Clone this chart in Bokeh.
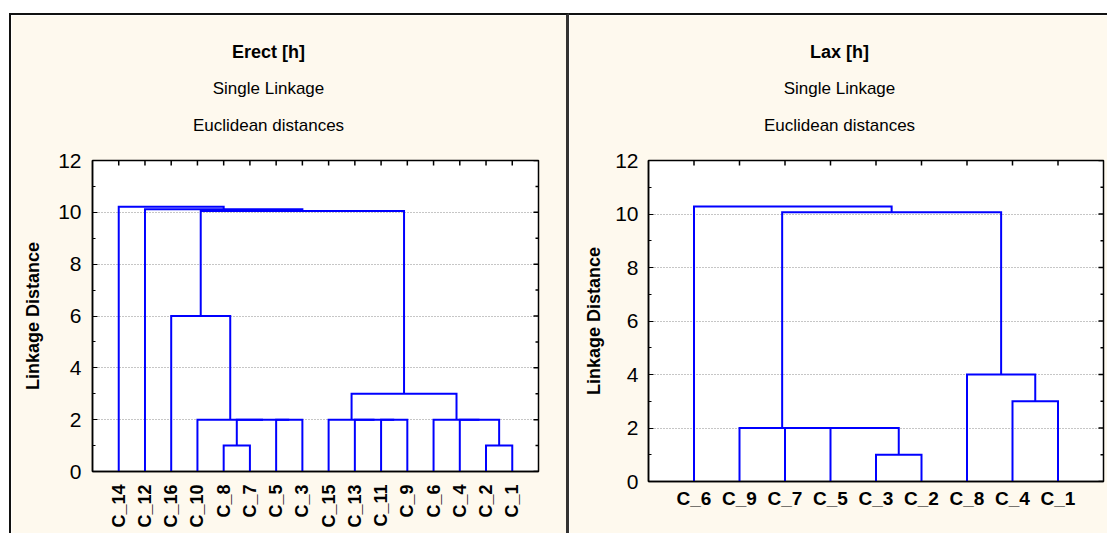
from math import pi
from bokeh.plotting import figure
from bokeh.layouts import row
from bokeh.models import Range1d, LinearAxis, FixedTicker, Title, Grid, GlobalInlineStyleSheet
from bokeh.embed import file_html
from bokeh.resources import INLINE

# ---------------- data ----------------
erect_leaves = ["C_14", "C_12", "C_16", "C_10", "C_8", "C_7", "C_5", "C_3",
                "C_15", "C_13", "C_11", "C_9", "C_6", "C_4", "C_2", "C_1"]
erect_merge_a = ["C_8", "C_2", "C_5", "#0", "C_10", "C_11", "C_13", "C_15",
                 "C_4", "C_6", "#7", "C_16", "#11", "C_12", "C_14"]
erect_merge_b = ["C_7", "C_1", "C_3", "#2", "#3", "C_9", "#5", "#6",
                 "#1", "#8", "#9", "#4", "#10", "#12", "#13"]
erect_merge_h = [1.0, 1.0, 2.0, 2.0, 2.0, 2.0, 2.0, 2.0,
                 2.0, 2.0, 3.0, 6.0, 10.05, 10.12, 10.22]

lax_leaves = ["C_6", "C_9", "C_7", "C_5", "C_3", "C_2", "C_8", "C_4", "C_1"]
lax_merge_a = ["C_3", "C_5", "C_7", "C_9", "C_4", "C_8", "#3", "C_6"]
lax_merge_b = ["C_2", "#0", "#1", "#2", "C_1", "#4", "#5", "#6"]
lax_merge_h = [1.0, 2.0, 2.0, 2.0, 3.0, 4.0, 10.07, 10.28]

y_ticks = [0, 2, 4, 6, 8, 10, 12]
y_minor = [1, 3, 5, 7, 9, 11]
grid_levels = [2, 4, 6, 8, 10]

erect_titles = ["Erect [h]", "Single Linkage", "Euclidean distances"]
lax_titles = ["Lax [h]", "Single Linkage", "Euclidean distances"]
y_label = "Linkage Distance"

CREAM = "#FEF9EE"
BLUE = "#0000FF"
FONT = "Liberation Sans"
TITLE_SIZES = [18, 17, 17]       # bold main title, then the two sub-titles
TITLE_PANELS = [71, 2, 71]       # height of each title's band above the frame (px)

# Arial / Liberation Sans advance widths (1/1000 em), used to centre the titles
W_REG = {" ": 278, "E": 667, "L": 556, "S": 667, "a": 556, "c": 500, "d": 556,
         "e": 556, "g": 556, "i": 222, "k": 500, "l": 222, "n": 556, "s": 500,
         "t": 278, "u": 556}
W_BOLD = {" ": 278, "E": 667, "L": 611, "r": 389, "e": 556, "c": 556, "t": 333,
          "[": 333, "h": 611, "]": 333, "a": 556, "x": 556}


def text_width(s, size, bold):
    tab = W_BOLD if bold else W_REG
    return sum(tab.get(ch, 556) for ch in s) / 1000.0 * size


def dendro_segments(leaves, ma, mb, mh):
    pos = {name: i + 1 for i, name in enumerate(leaves)}
    hgt = {name: 0.0 for name in leaves}
    xs, ys = [], []
    for k, (a, b, h) in enumerate(zip(ma, mb, mh)):
        xa, xb = pos[a], pos[b]
        xs.append([xa, xa, xb, xb])
        ys.append([hgt[a], h, h, hgt[b]])
        pos["#%d" % k] = (xa + xb) / 2.0
        hgt["#%d" % k] = h
    return xs, ys


def make_panel(leaves, ma, mb, mh, titles, width, height, borders, rotate,
               title_cx, ystand, ylabstand, xstand, xsize):
    n = len(leaves)
    bl, br, bt, bb = borders
    p = figure(width=width, height=height,
               x_range=Range1d(0, n + 1), y_range=Range1d(0, 12),
               output_backend="svg", toolbar_location=None,
               x_axis_location=None, y_axis_location=None,
               min_border_left=bl, min_border_right=br,
               min_border_top=bt, min_border_bottom=bb,
               background_fill_color="white", border_fill_color=CREAM,
               outline_line_color="black", outline_line_width=1.5)
    p.xgrid.visible = False
    p.ygrid.visible = False

    p.add_layout(Grid(dimension=1, ticker=FixedTicker(ticks=grid_levels),
                      grid_line_color="#8c8c8c", grid_line_dash="1 2",
                      grid_line_width=1))

    yax = LinearAxis(ticker=FixedTicker(ticks=y_ticks, minor_ticks=y_minor),
                     axis_label=y_label,
                     axis_label_text_font=FONT, axis_label_text_font_style="bold",
                     axis_label_text_font_size="18px", axis_label_text_color="black",
                     axis_label_standoff=ylabstand,
                     major_label_text_font=FONT, major_label_text_font_size="21px",
                     major_label_text_color="black", major_label_standoff=ystand,
                     major_tick_in=5, major_tick_out=0, minor_tick_in=3, minor_tick_out=0,
                     axis_line_width=1.5, axis_line_color="black")
    p.add_layout(yax, "left")

    leaf_ticks = list(range(1, n + 1))
    xax = LinearAxis(ticker=FixedTicker(ticks=leaf_ticks, minor_ticks=[]),
                     major_label_overrides={i + 1: name for i, name in enumerate(leaves)},
                     major_label_text_font=FONT, major_label_text_font_size=xsize,
                     major_label_text_font_style="bold", major_label_text_color="black",
                     major_label_orientation=(pi / 2 if rotate else "horizontal"),
                     major_label_standoff=xstand,
                     major_tick_in=0, major_tick_out=0, minor_tick_in=0, minor_tick_out=0,
                     axis_line_width=1.5, axis_line_color="black")
    p.add_layout(xax, "below")

    # inner tick marks on the top and right frame edges (half of each dash is clipped)
    p.scatter(x=[n + 1] * len(y_ticks), y=y_ticks, marker="dash", size=10,
              line_color="black", line_width=1.5)
    p.scatter(x=[n + 1] * len(y_minor), y=y_minor, marker="dash", size=6,
              line_color="black", line_width=1.5)
    p.scatter(x=leaf_ticks, y=[12] * n, marker="dash", angle=pi / 2, size=10,
              line_color="black", line_width=1.5)

    xs, ys = dendro_segments(leaves, ma, mb, mh)
    p.multi_line(xs, ys, line_color=BLUE, line_width=2, line_join="miter")

    # titles stacked above the frame: innermost first; each text is centred in its band
    for i in [2, 1, 0]:
        bold = (i == 0)
        size = TITLE_SIZES[i]
        w = text_width(titles[i], size, bold)
        stand = TITLE_PANELS[i] - 2 - 1.09 * size
        p.add_layout(Title(text=titles[i], align="left", offset=title_cx - w / 2.0,
                           vertical_align="middle", standoff=stand,
                           text_font=FONT, text_font_size="%gpx" % size,
                           text_font_style=("bold" if bold else "normal"),
                           text_color="black"), "above")
    return p


p1 = make_panel(erect_leaves, erect_merge_a, erect_merge_b, erect_merge_h, erect_titles,
                560, 520, (81, 33, 145, 64), True,
                176, 11, 12, 13, "18px")
p2 = make_panel(lax_leaves, lax_merge_a, lax_merge_b, lax_merge_h, lax_titles,
                538, 530, (79, 4, 145, 64), False,
                191, 10, 8, 6, "19px")

p1.styles = {"border-top": "2px solid #111111", "border-left": "2px solid #111111",
             "border-right": "3px solid #333333"}
p2.styles = {"border-top": "2px solid #111111"}
p1.margin = (13, 0, 0, 9)
p2.margin = (13, 0, 0, 0)

layout = row(p1, p2, stylesheets=[GlobalInlineStyleSheet(css="html, body { overflow: hidden; }")])

open("out.html", "w").write(file_html(layout, INLINE))
